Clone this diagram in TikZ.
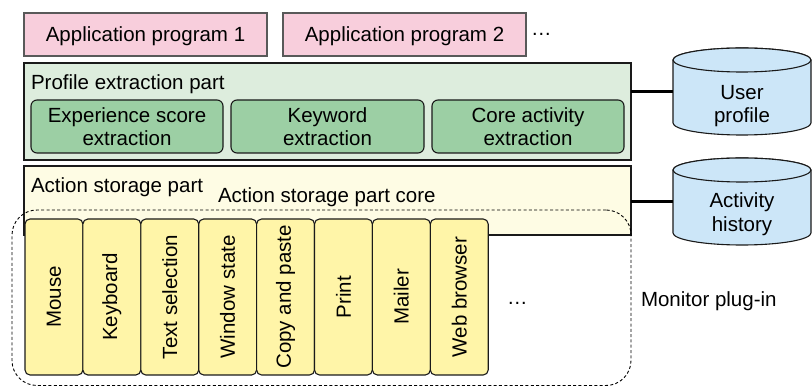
\documentclass[tikz,border=0pt]{standalone}
\usepackage{fontspec}
\setmainfont{Liberation Sans}
\definecolor{apppink}{HTML}{F8CEDC}
\definecolor{appborder}{HTML}{595959}
\definecolor{profbg}{HTML}{DDEDDD}
\definecolor{profin}{HTML}{9CCFA4}
\definecolor{actbg}{HTML}{FEFCE4}
\definecolor{plugyel}{HTML}{FFF5A8}
\definecolor{cylblue}{HTML}{CCE6F8}
\definecolor{edge}{HTML}{1A1A1A}
\tikzset{
  txt/.style={font=\fontsize{20.5}{23.5}\selectfont, inner sep=0pt, outer sep=0pt, align=center},
  appbox/.style={txt, draw=appborder, fill=apppink, line width=1.2pt, minimum width=243pt, minimum height=43pt, text height=17pt, text depth=2.3pt},
  bigbox/.style={draw=edge, line width=1.2pt, minimum width=607pt, inner sep=0pt, outer sep=0pt},
  extbox/.style={txt, draw=edge, fill=profin, line width=1.1pt, rounded corners=6pt, minimum height=53pt},
  plugbox/.style={txt, draw=edge, fill=plugyel, line width=1.1pt, rounded corners=5pt, rotate=90, minimum width=156pt, minimum height=57.9pt},
  dashregion/.style={draw=black, line width=0.9pt, dash pattern=on 3pt off 2.3pt, rounded corners=25pt, minimum width=619pt, minimum height=175.5pt, inner sep=0pt, outer sep=0pt},
  cylspot/.style={minimum width=138pt, minimum height=87pt, inner sep=0pt, outer sep=0pt},
  cyl/.style={draw=edge, fill=cylblue, line width=1.1pt},
  conn/.style={draw=black, line width=2.3pt},
  lbl/.style={txt, anchor=base west}
}
\begin{document}
\begin{tikzpicture}[x=1pt, y=1pt]
\useasboundingbox (0,0) rectangle (812,-387);
% application programs
\node[appbox] (app1) at (145.5,-34.5) {Application program 1};
\node[appbox] (app2) at (404.5,-34.5) {Application program 2};
\node[lbl] (appdots) at (531,-36) {…};
% profile extraction part
\node[bigbox, fill=profbg, minimum height=97pt] (profile) at (327.5,-111.5) {};
\node[lbl] (proflbl) at (31,-90) {Profile extraction part};
\node[extbox, minimum width=192pt] (exp) at (127,-126.5) {Experience score\\extraction};
\node[extbox, minimum width=193pt] (key) at (327.5,-126.5) {Keyword\\extraction};
\node[extbox, minimum width=192pt] (core) at (528,-126.5) {Core activity\\extraction};
% action storage part
\node[bigbox, fill=actbg, minimum height=69pt] (action) at (327.5,-200.5) {};
\node[lbl] (actlbl) at (31,-193) {Action storage part};
\node[lbl] (corelbl) at (218,-203) {Action storage part core};
% monitor plug-in region
\node[dashregion] (plugin) at (321.5,-297.75) {};
\foreach \t [count=\i from 0] in {Mouse, Keyboard, Text selection, Window state, Copy and paste, Print, Mailer, Web browser}
  \node[plugbox] (p\i) at ({25+57.9*(\i+0.5)},-297) {\t};
\node[lbl] (plugdots) at (507,-305) {…};
\node[lbl] (pluglbl) at (641,-307) {Monitor plug-in};
% cylinders
\node[cylspot] (up) at (742,-91.5) {};
\path[cyl] (673,-60) -- (673,-123) arc (180:360:69pt and 12pt) -- (811,-60) arc (0:180:69pt and 12pt) -- cycle;
\draw[cyl] (742,-60) ellipse (69pt and 12pt);
\node[txt] (uptxt) at (742,-106) {User\\profile};
\node[cylspot] (ah) at (742,-201.5) {};
\path[cyl] (673,-170) -- (673,-233) arc (180:360:69pt and 12pt) -- (811,-170) arc (0:180:69pt and 12pt) -- cycle;
\draw[cyl] (742,-170) ellipse (69pt and 12pt);
\node[txt] (ahtxt) at (742,-214) {Activity\\history};
% connectors
\draw[conn] (profile.east |- up.west) -- (up.west);
\draw[conn] (action.east |- ah.west) -- (ah.west);
\end{tikzpicture}
\end{document}
